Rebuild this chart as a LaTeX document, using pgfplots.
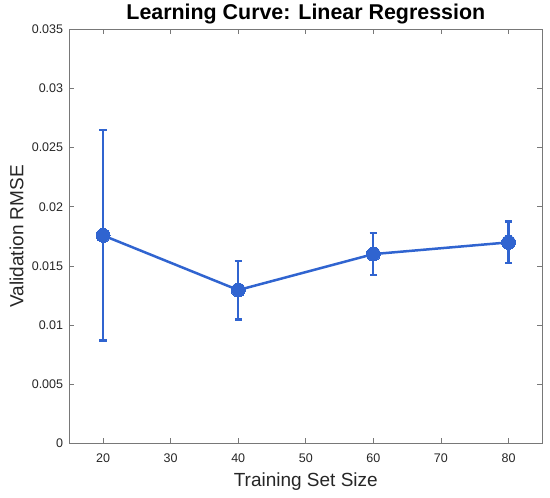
\documentclass[border=0pt]{standalone}
\usepackage{pgfplots}
\pgfplotsset{compat=1.18}
\usepackage{fontspec}
\setmainfont{Liberation Sans}
\definecolor{lineblue}{RGB}{48,100,208}
\definecolor{axgray}{RGB}{120,120,120}
\definecolor{txtgray}{RGB}{38,38,38}
\begin{document}
\begin{tikzpicture}
\begin{axis}[
  scale only axis,
  width=473bp, height=414.1bp,
  xmin=15, xmax=85, ymin=0, ymax=0.035,
  xtick={20,30,40,50,60,70,80},
  ytick={0,0.005,0.01,0.015,0.02,0.025,0.03,0.035},
  yticklabels={0,0.005,0.01,0.015,0.02,0.025,0.03,0.035},
  scaled y ticks=false,
  /pgf/number format/assume math mode=true,
  axis line style={axgray, line width=0.8bp},
  tick style={axgray, line width=0.8bp},
  tick align=inside,
  major tick length=5bp,
  ticklabel style={font=\fontsize{12.5bp}{15bp}\selectfont, text=txtgray},
  xticklabel style={anchor=base, yshift=-19.3bp},
  yticklabel style={anchor=east, inner sep=0pt, xshift=-6bp},
  title={Learning Curve: Linear Regression},
  title style={font=\fontsize{21.4bp}{25bp}\selectfont\bfseries, at={(axis description cs:0.5,1.0104)}, anchor=base},
  xlabel={Training Set Size},
  ylabel={Validation RMSE},
  label style={font=\fontsize{19bp}{23bp}\selectfont, text=txtgray},
  xlabel style={at={(axis description cs:0.5,-0.1029)}, anchor=base},
  ylabel style={at={(axis description cs:-0.0973,0.5)}, anchor=base},
  clip=false,
]
\addplot[lineblue, line width=2.5bp, mark=*, mark size=7bp,
  mark options={fill=lineblue, draw=lineblue, line width=0bp},
  error bars/.cd, y dir=both, y explicit,
  error mark options={rotate=90, mark size=3.7bp, line width=2.2bp, lineblue},
  error bar style={line width=2.2bp, lineblue}]
coordinates {
  (20,0.01758) +- (0,0.00888)
  (40,0.01296) +- (0,0.00248)
  (60,0.01600) +- (0,0.00176)
  (80,0.01699) +- (0,0.00177)
};
\end{axis}
\pgfresetboundingbox
\path[use as bounding box] (-69.3bp,-54.6bp) rectangle (480.7bp,443.4bp);
\end{tikzpicture}
\end{document}
